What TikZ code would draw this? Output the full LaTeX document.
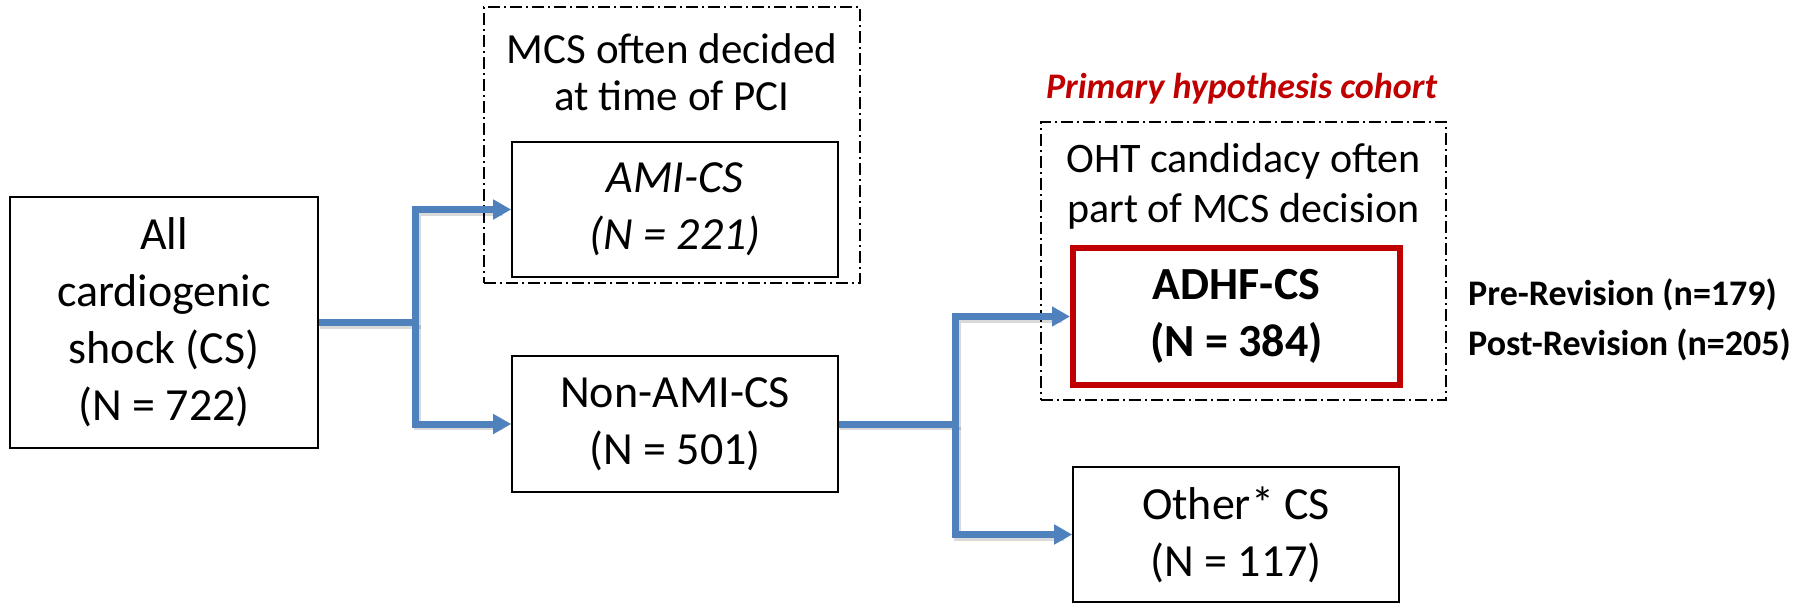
\documentclass[tikz,border=0pt]{standalone}
\usepackage{fontspec}
\setmainfont{Carlito}
\usetikzlibrary{arrows.meta,shadows}
\definecolor{cblue}{RGB}{79,129,189}
\definecolor{cred}{RGB}{192,0,0}
\begin{document}
\begin{tikzpicture}[x=1pt,y=-1pt,
  box/.style={draw=black, line width=1.6pt, rectangle, inner sep=0pt, align=center,
    font=\fontsize{46}{57}\selectfont},
  grp/.style={draw=black, line width=1.4pt, dash pattern=on 12pt off 4pt on 2pt off 4pt,
    rectangle, inner sep=0pt},
  hdr/.style={align=center, inner sep=0pt, font=\fontsize{43}{47}\selectfont},
  redbox/.style={draw=cred, fill=white, line width=6pt, rectangle, inner sep=0pt, align=center,
    font=\fontsize{46}{57}\selectfont\bfseries,
    drop shadow={opacity=0.3, shadow xshift=3pt, shadow yshift=-3pt}},
  side/.style={inner sep=0pt, anchor=base west, font=\fontsize{36}{44}\selectfont\bfseries},
  conn/.style={draw=cblue, line width=7pt, -{Triangle[length=18pt,width=19pt]}},
  cshadow/.style={draw=black, opacity=0.15, line width=7pt, shorten >=10pt}
]
\useasboundingbox (0,0) rectangle (1806,603);

% groups
\node[grp, minimum width=376pt, minimum height=276pt] (amigrp) at (672,145) {};
\node[grp, minimum width=405pt, minimum height=278pt] (adhfgrp) at (1243.5,261) {};

% headers
\node[hdr] (amihdr) at (672,72) {MCS often decided\\at time of PCI};
\node[hdr, font=\fontsize{42}{50}\selectfont] (adhfhdr) at (1243.5,186) {OHT candidacy often\\part of MCS decision};
\node[inner sep=0pt, anchor=base, text=cred, font=\fontsize{36}{44}\selectfont\bfseries\itshape] (primary) at (1241.5,98) {Primary hypothesis cohort};

% boxes
\node[box, minimum width=308pt, minimum height=251pt] (all) at (164,322.5) {All\\cardiogenic\\shock (CS)\\(N = 722)};
\node[box, minimum width=326pt, minimum height=135pt, font=\fontsize{46}{57}\selectfont\itshape] (ami) at (675,209.5) {AMI-CS\\(N = 221)};
\node[box, minimum width=326pt, minimum height=136pt] (nonami) at (675,424) {Non-AMI-CS\\(N = 501)};
\node[redbox, minimum width=327pt, minimum height=137pt] (adhf) at (1236.5,316.5) {ADHF-CS\\(N = 384)};
\node[box, minimum width=326pt, minimum height=135pt] (other) at (1236,534.5) {Other* CS\\(N = 117)};

% side labels
\node[side] (pre) at (1468,305) {Pre-Revision (n=179)};
\node[side] (post) at (1468,355) {Post-Revision (n=205)};

% connectors
\path (all.east) ++(97,0) coordinate (j1);
\path (nonami.east) ++(117,0) coordinate (j2);
\begin{scope}[transform canvas={shift={(1.5pt,-2.5pt)}}]
  \draw[cshadow] (all.east) -- (j1) |- (ami.west);
  \draw[cshadow] (j1) |- (nonami.west);
  \draw[cshadow] (nonami.east) -- (j2) |- (adhf.west);
  \draw[cshadow] (j2) |- (other.west);
\end{scope}
\draw[conn] (all.east) -- (j1) |- (ami.west);
\draw[conn] (j1) |- (nonami.west);
\draw[conn] (nonami.east) -- (j2) |- (adhf.west);
\draw[conn] (j2) |- (other.west);
\end{tikzpicture}
\end{document}
